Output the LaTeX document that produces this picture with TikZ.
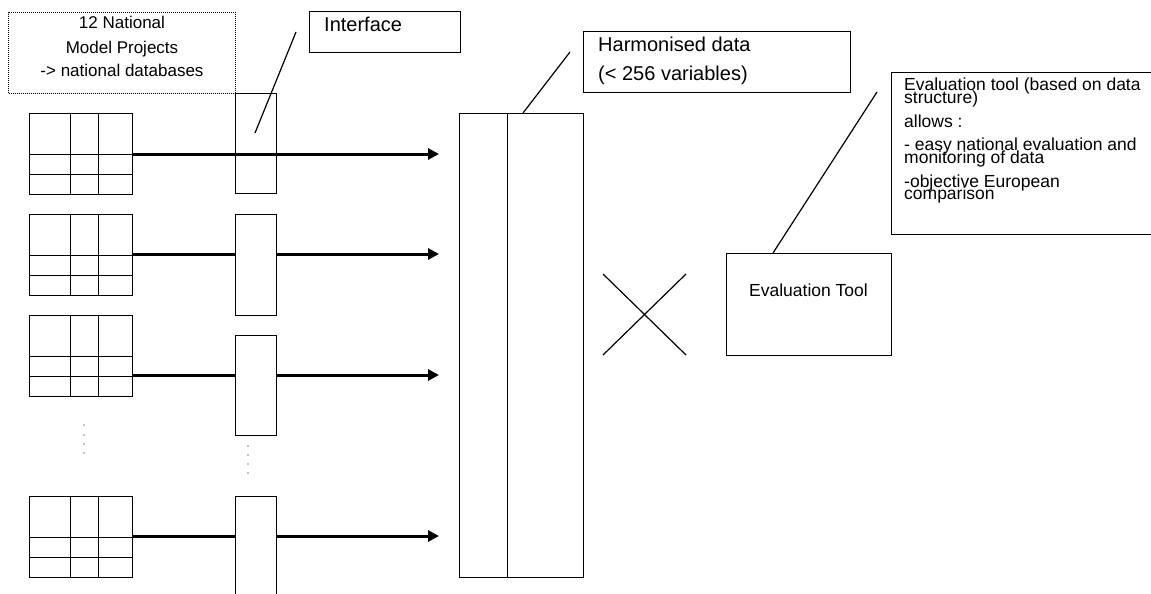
\documentclass[tikz,border=0pt]{standalone}
\usepackage{fontspec}
\setmainfont{Liberation Sans}
\usetikzlibrary{arrows.meta}
\begin{document}
\begin{tikzpicture}[x=1pt,y=-1pt,
  thinbox/.style={draw, line width=1pt, inner sep=0pt, outer sep=0pt},
  gridline/.style={line width=1pt},
  flow/.style={line width=3pt, -{Triangle[length=11pt,width=11pt]}},
  pointer/.style={line width=1.2pt},
  bigtxt/.style={inner sep=0pt, font=\fontsize{20}{24}\selectfont},
  midtxt/.style={inner sep=0pt, font=\fontsize{17.5}{21}\selectfont},
  dottxt/.style={inner sep=0pt, font=\fontsize{17}{24}\selectfont, align=center},
  dotbox/.style={draw, line width=1.2pt, dash pattern=on 1pt off 1pt, inner sep=0pt},
  tinydot/.style={fill, circle, inner sep=0pt, minimum size=1.3pt}
]
\useasboundingbox (0,0) rectangle (1151,594);

% arrows first (box 1 is transparent, others cover the line)
\foreach \t/\n/\y in {113/1/154,214/2/254,315/3/375,496/4/536} {
  \node[thinbox, minimum width=103pt, minimum height=81pt, anchor=north west] (g\n) at (29,\t) {};
  \coordinate (a\n) at (439,\y);
}
\foreach \n in {1,2,3,4} {
  \draw[flow] (g\n.east |- a\n) -- (a\n);
}

% grids
\foreach \t in {113,214,315,496} {
  \draw[gridline] (70,\t) -- ++(0,81);
  \draw[gridline] (98,\t) -- ++(0,81);
  \draw[gridline] (29,\t+41) -- ++(103,0);
  \draw[gridline] (29,\t+61) -- ++(103,0);
}

% interface boxes
\node[thinbox, minimum width=41pt, minimum height=100pt, anchor=north west] (i1) at (235,93) {};
\node[thinbox, fill=white, minimum width=41pt, minimum height=101pt, anchor=north west] (i2) at (235,214) {};
\node[thinbox, fill=white, minimum width=41pt, minimum height=100pt, anchor=north west] (i3) at (235,335) {};
\node[thinbox, fill=white, minimum width=41pt, minimum height=110pt, anchor=north west] (i4) at (235,496) {};

% dots
\foreach \y in {425,435,444,453} \node[tinydot] (ld\y) at (84,\y) {};
\foreach \y in {446,455,464,473} \node[tinydot] (rd\y) at (248,\y) {};

% top-left dotted box
\node[dotbox, minimum width=227pt, minimum height=81pt, anchor=north west] (nat) at (8,12) {};
\node[dottxt, anchor=base] (natt1) at (122,29) {12 National};
\node[dottxt, anchor=base] (natt2) at (122,53) {Model Projects};
\node[dottxt, anchor=base] (natt3) at (122,77) {-> national databases};

% interface label
\node[thinbox, minimum width=151pt, minimum height=41pt, anchor=north west] (ifl) at (309,12) {};
\node[bigtxt, anchor=base west] (iflt) at (324,32) {Interface};
\coordinate (ip1) at (255,133);
\coordinate (ip2) at (296,32);
\draw[pointer] (ip1) -- (ip2);

% main harmonised rectangle
\node[thinbox, minimum width=124pt, minimum height=464pt, anchor=north west] (main) at (459,113) {};
\draw[line width=1pt] (507,113) -- (507,577);

% harmonised label
\node[thinbox, minimum width=267pt, minimum height=60pt, anchor=north west] (hl) at (583,32) {};
\node[bigtxt, anchor=base west] (hlt1) at (598,52) {Harmonised data};
\node[bigtxt, anchor=base west] (hlt2) at (598,81) {(< 256 variables)};
\coordinate (hp1) at (523,113);
\coordinate (hp2) at (570,52);
\draw[pointer] (hp1) -- (hp2);

% cross
\coordinate (x1) at (603,274);
\coordinate (x2) at (686,355);
\coordinate (x3) at (603,355);
\coordinate (x4) at (686,274);
\draw[pointer] (x1) -- (x2);
\draw[pointer] (x3) -- (x4);

% evaluation tool
\node[thinbox, minimum width=165pt, minimum height=102pt, anchor=north west] (ev) at (726,253) {};
\node[midtxt, anchor=base] (evt) at (808.5,296) {Evaluation Tool};

% description box
\node[thinbox, minimum width=280pt, minimum height=161pt, anchor=north west] (desc) at (891,73) {};
\node[midtxt, anchor=base west] (d1) at (904,91) {Evaluation tool (based on data};
\node[midtxt, anchor=base west] (d2) at (904,103.5) {structure)};
\node[midtxt, anchor=base west] (d3) at (904,127) {allows :};
\node[midtxt, anchor=base west] (d4) at (904,150) {- easy national evaluation and};
\node[midtxt, anchor=base west] (d5) at (904,163) {monitoring of data};
\node[midtxt, anchor=base west] (d6) at (904,187) {-objective European};
\node[midtxt, anchor=base west] (d7) at (904,199.5) {comparison};
\coordinate (ep1) at (773,253);
\coordinate (ep2) at (877,92);
\draw[pointer] (ep1) -- (ep2);
\end{tikzpicture}
\end{document}
